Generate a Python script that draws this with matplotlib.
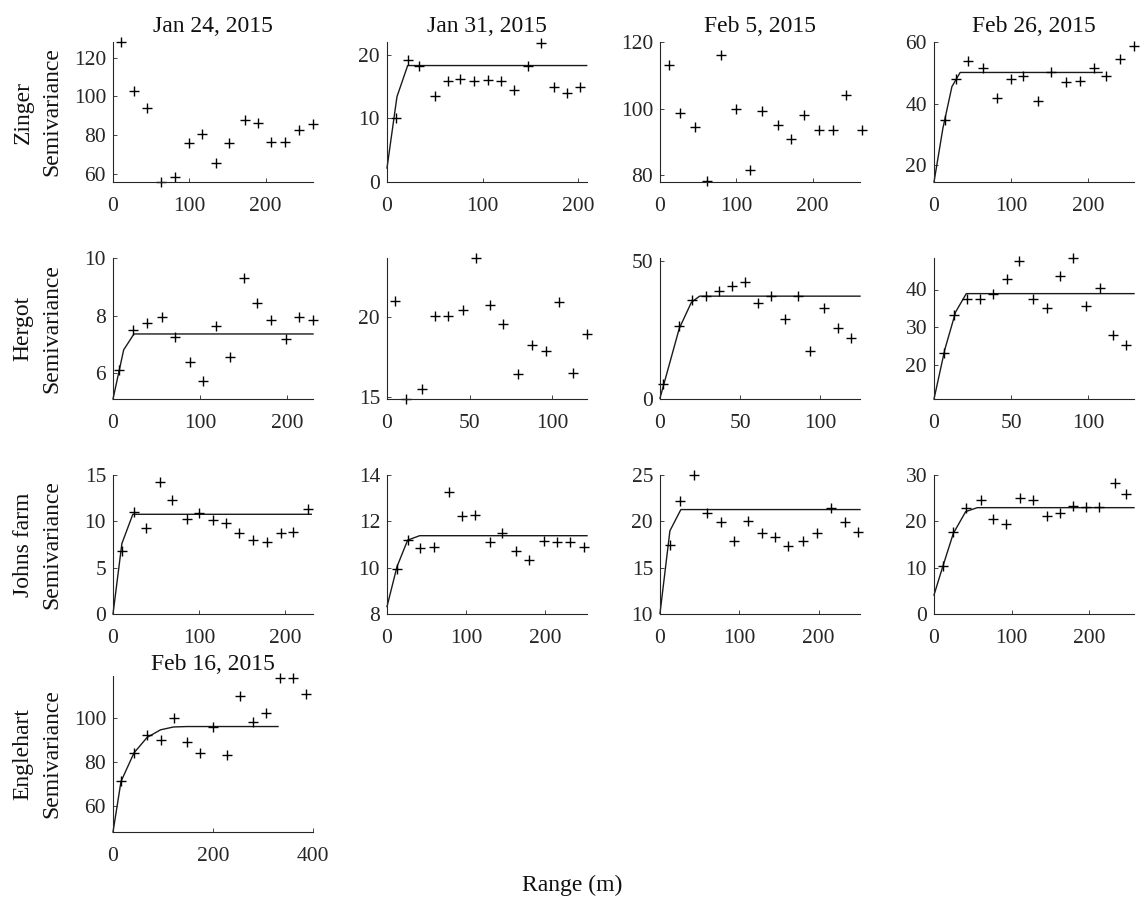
import matplotlib.pyplot as plt

plt.rcParams['font.family'] = ['Liberation Serif', 'DejaVu Serif']

# --- Zinger ---
zinger_jan24_lag = [10.9, 27.4, 44.8, 63.0, 81.3, 99.0, 116.5, 134.8, 152.0, 172.6, 189.6, 207.4, 224.8, 243.5, 262.0]
zinger_jan24_gamma = [127.8, 103.0, 94.1, 56.1, 58.6, 76.0, 80.6, 65.9, 76.0, 87.8, 86.5, 76.7, 76.7, 82.6, 85.7]

zinger_jan31_lag = [9.4, 21.6, 33.7, 49.7, 63.3, 76.5, 90.4, 106.0, 119.3, 132.9, 147.8, 160.7, 175.0, 188.5, 201.7]
zinger_jan31_gamma = [10.0, 19.2, 18.2, 13.5, 15.9, 16.2, 15.9, 16.1, 15.9, 14.4, 18.2, 21.9, 15.0, 14.0, 14.9]
zinger_jan31_fit_lag = [0, 10.4, 21.6, 208.7]
zinger_jan31_fit = [2.2, 13.4, 18.3, 18.3]

zinger_feb5_lag = [12.1, 26.8, 45.5, 61.5, 80.0, 99.6, 117.7, 134.2, 154.5, 171.0, 189.2, 207.8, 226.4, 243.7, 264.0]
zinger_feb5_gamma = [113.0, 98.8, 94.5, 78.2, 116.0, 100.0, 81.5, 99.2, 95.2, 91.0, 98.0, 93.5, 93.5, 104.0, 93.5]

zinger_feb26_lag = [14.7, 28.0, 44.8, 63.4, 81.9, 100.0, 116.0, 135.8, 151.7, 172.0, 189.2, 208.6, 224.1, 242.2, 260.3]
zinger_feb26_gamma = [34.8, 48.0, 53.7, 51.7, 41.9, 48.0, 48.8, 40.9, 50.1, 46.9, 47.4, 51.5, 49.0, 54.5, 58.6]
zinger_feb26_fit_lag = [0, 11.6, 23.3, 34.0, 218.5]
zinger_feb26_fit = [14.5, 32.0, 45.5, 50.1, 50.1]

# --- Hergot ---
hergot_jan24_lag = [6.9, 23.0, 39.5, 55.9, 71.6, 88.1, 103.4, 118.8, 134.9, 150.6, 165.9, 182.0, 198.5, 213.8, 229.9]
hergot_jan24_gamma = [6.12, 7.51, 7.73, 7.96, 7.26, 6.37, 5.71, 7.65, 6.55, 9.29, 8.44, 7.86, 7.19, 7.96, 7.84]
hergot_jan24_fit_lag = [0, 12.3, 24.1, 230.0]
hergot_jan24_fit = [5.1, 6.81, 7.36, 7.36]

hergot_jan31_lag = [5.0, 11.7, 21.1, 28.8, 37.2, 45.7, 53.9, 62.4, 70.4, 79.5, 87.9, 96.2, 104.2, 112.7, 121.3]
hergot_jan31_gamma = [20.99, 14.9, 15.52, 20.1, 20.1, 20.43, 23.68, 20.74, 19.6, 16.44, 18.24, 17.89, 20.93, 16.5, 18.98]

hergot_feb5_lag = [2.1, 11.8, 20.0, 28.5, 36.5, 44.7, 53.0, 61.2, 69.1, 77.7, 86.2, 93.8, 102.5, 110.7, 119.0]
hergot_feb5_gamma = [5.6, 26.3, 35.9, 37.4, 39.1, 40.7, 42.5, 34.9, 37.4, 28.9, 37.4, 17.2, 32.8, 25.6, 22.2]
hergot_feb5_fit_lag = [0, 12.0, 19.6, 24.7, 124.7]
hergot_feb5_fit = [0.3, 25.5, 35.0, 37.2, 37.2]

hergot_feb26_lag = [6.2, 12.7, 21.3, 30.1, 38.5, 47.1, 55.3, 63.9, 73.1, 81.5, 90.1, 98.3, 107.3, 115.9, 124.5]
hergot_feb26_gamma = [23.1, 33.3, 37.5, 37.5, 38.9, 42.9, 47.6, 37.6, 35.1, 43.6, 48.4, 35.7, 40.3, 27.8, 25.1]
hergot_feb26_fit_lag = [0, 7.0, 14.0, 20.9, 129.5]
hergot_feb26_fit = [10.8, 24.0, 34.0, 38.9, 38.9]

# --- Johns farm ---
johns_jan24_lag = [10.3, 24.9, 38.3, 54.8, 69.0, 86.2, 99.6, 116.1, 131.4, 146.7, 162.8, 178.2, 194.6, 208.8, 226.0]
johns_jan24_gamma = [6.8, 11.04, 9.32, 14.28, 12.3, 10.25, 10.86, 10.14, 9.86, 8.78, 7.99, 7.81, 8.78, 8.88, 11.33]
johns_jan24_fit_lag = [0, 10.3, 23.0, 230.0]
johns_jan24_fit = [0.0, 7.6, 10.76, 10.76]

johns_jan31_lag = [12.6, 26.1, 42.1, 58.9, 78.7, 94.7, 110.7, 129.7, 145.3, 162.9, 179.8, 197.9, 214.7, 230.7, 249.3]
johns_jan31_gamma = [9.93, 11.19, 10.83, 10.88, 13.28, 12.23, 12.27, 11.12, 11.51, 10.73, 10.33, 11.15, 11.09, 11.09, 10.91]
johns_jan31_fit_lag = [0, 12.6, 26.1, 41.3, 252.6]
johns_jan31_fit = [8.32, 10.04, 11.19, 11.38, 11.38]

johns_feb5_lag = [12.5, 25.8, 42.9, 59.2, 77.1, 93.8, 111.3, 127.9, 144.6, 161.7, 180.4, 197.9, 215.4, 232.5, 250.0]
johns_feb5_gamma = [17.45, 22.18, 24.98, 20.9, 19.89, 17.89, 20.07, 18.69, 18.33, 17.35, 17.89, 18.69, 21.45, 19.89, 18.8]
johns_feb5_fit_lag = [0, 12.5, 26.3, 252.0]
johns_feb5_fit = [10.07, 18.98, 21.27, 21.27]

johns_feb26_lag = [11.6, 24.9, 41.6, 60.9, 76.4, 92.3, 110.7, 127.9, 145.1, 161.8, 179.4, 196.1, 212.4, 233.0, 247.6]
johns_feb26_gamma = [10.36, 17.63, 22.95, 24.6, 20.43, 19.42, 24.96, 24.6, 21.22, 21.87, 23.38, 23.02, 23.02, 28.2, 25.9]
johns_feb26_fit_lag = [0, 11.6, 24.9, 40.8, 55.8, 257.5]
johns_feb26_fit = [4.1, 10.4, 17.4, 22.1, 22.95, 22.95]

# --- Englehart ---
englehart_feb16_lag = [16, 42, 68, 95, 121, 148, 174, 200, 227, 253, 280, 306, 333, 359, 385]
englehart_feb16_gamma = [71, 84, 92, 90, 100, 89, 84, 96, 83, 110, 98, 102, 118, 118, 111]
englehart_feb16_fit_lag = [0, 16, 42, 68, 95, 121, 148, 330]
englehart_feb16_fit = [48, 71, 84, 91, 94.5, 95.8, 96, 96]

dates = ['Jan 24, 2015', 'Jan 31, 2015', 'Feb 5, 2015', 'Feb 26, 2015']
sites = ['Zinger', 'Hergot', 'Johns farm']

# (row, col, lag, gamma, fit lag, fit, xlim, ylim, xticks, yticks)
panels = [
    (0, 0, zinger_jan24_lag, zinger_jan24_gamma, None, None, 262, (56, 128), [0, 100, 200], [60, 80, 100, 120]),
    (0, 1, zinger_jan31_lag, zinger_jan31_gamma, zinger_jan31_fit_lag, zinger_jan31_fit, 209, (0, 22), [0, 100, 200], [0, 10, 20]),
    (0, 2, zinger_feb5_lag, zinger_feb5_gamma, None, None, 262, (78, 120), [0, 100, 200], [80, 100, 120]),
    (0, 3, zinger_feb26_lag, zinger_feb26_gamma, zinger_feb26_fit_lag, zinger_feb26_fit, 260, (14.5, 60), [0, 100, 200], [20, 40, 60]),
    (1, 0, hergot_jan24_lag, hergot_jan24_gamma, hergot_jan24_fit_lag, hergot_jan24_fit, 230, (5.1, 10), [0, 100, 200], [6, 8, 10]),
    (1, 1, hergot_jan31_lag, hergot_jan31_gamma, None, None, 121, (14.9, 23.7), [0, 50, 100], [15, 20]),
    (1, 2, hergot_feb5_lag, hergot_feb5_gamma, hergot_feb5_fit_lag, hergot_feb5_fit, 124.7, (0, 51), [0, 50, 100], [0, 50]),
    (1, 3, hergot_feb26_lag, hergot_feb26_gamma, hergot_feb26_fit_lag, hergot_feb26_fit, 129.5, (10.8, 48.4), [0, 50, 100], [20, 30, 40]),
    (2, 0, johns_jan24_lag, johns_jan24_gamma, johns_jan24_fit_lag, johns_jan24_fit, 232, (0, 15), [0, 100, 200], [0, 5, 10, 15]),
    (2, 1, johns_jan31_lag, johns_jan31_gamma, johns_jan31_fit_lag, johns_jan31_fit, 252.6, (8, 14), [0, 100, 200], [8, 10, 12, 14]),
    (2, 2, johns_feb5_lag, johns_feb5_gamma, johns_feb5_fit_lag, johns_feb5_fit, 252, (10, 25), [0, 100, 200], [10, 15, 20, 25]),
    (2, 3, johns_feb26_lag, johns_feb26_gamma, johns_feb26_fit_lag, johns_feb26_fit, 257.5, (0, 30), [0, 100, 200], [0, 10, 20, 30]),
    (3, 0, englehart_feb16_lag, englehart_feb16_gamma, englehart_feb16_fit_lag, englehart_feb16_fit, 400, (48, 119), [0, 200, 400], [60, 80, 100]),
]

W, H = 1144, 900
col_left = [113, 387, 660, 934]
row_top = [42, 258, 475, 676]
row_bottom = [182, 399, 614, 832]
title_pad = [7, 7, 7, 4]
ax_w = 200

AXIS_GRAY = '#262626'

fig = plt.figure(figsize=(W / 100, H / 100), dpi=100)

for row, col, lag, gamma, fit_lag, fit, xmax, ylim, xt, yt in panels:
    top, bot = row_top[row], row_bottom[row]
    ax = fig.add_axes([col_left[col] / W, 1 - bot / H, ax_w / W, (bot - top) / H])
    if fit_lag is not None:
        ax.plot(fit_lag, fit, color='#1a1a1a', lw=1.0, clip_on=False)
    ax.plot(lag, gamma, '+', color='k', ms=7.5, mew=1.0, clip_on=False)

    ax.set_xlim(0, xmax)
    ax.set_ylim(*ylim)
    ax.set_xticks(xt)
    ax.set_yticks(yt)
    for s in ['top', 'right']:
        ax.spines[s].set_visible(False)
    for s in ['left', 'bottom']:
        ax.spines[s].set_color(AXIS_GRAY)
        ax.spines[s].set_linewidth(0.8)
    ax.tick_params(direction='in', length=3, width=0.6, colors=AXIS_GRAY,
                   labelsize=15.5)
    ax.tick_params(axis='x', pad=11)
    ax.tick_params(axis='y', pad=5)

    if row == 0:
        ax.set_title(dates[col], fontsize=17, pad=title_pad[row], color='#111111')
    if row == 3:
        ax.set_title('Feb 16, 2015', fontsize=17, pad=title_pad[row], color='#111111')
    if col == 0:
        name = sites[row] if row < 3 else 'Englehart'
        ax.set_ylabel(name + '\nSemivariance', fontsize=17, color='#111111',
                      linespacing=1.45)
        ax.yaxis.set_label_coords(-0.255, 0.5)

fig.text(572 / W, 1 - 885 / H, 'Range (m)', ha='center', va='center',
         fontsize=17, color='#111111')

fig.savefig('out.png', dpi=100)
